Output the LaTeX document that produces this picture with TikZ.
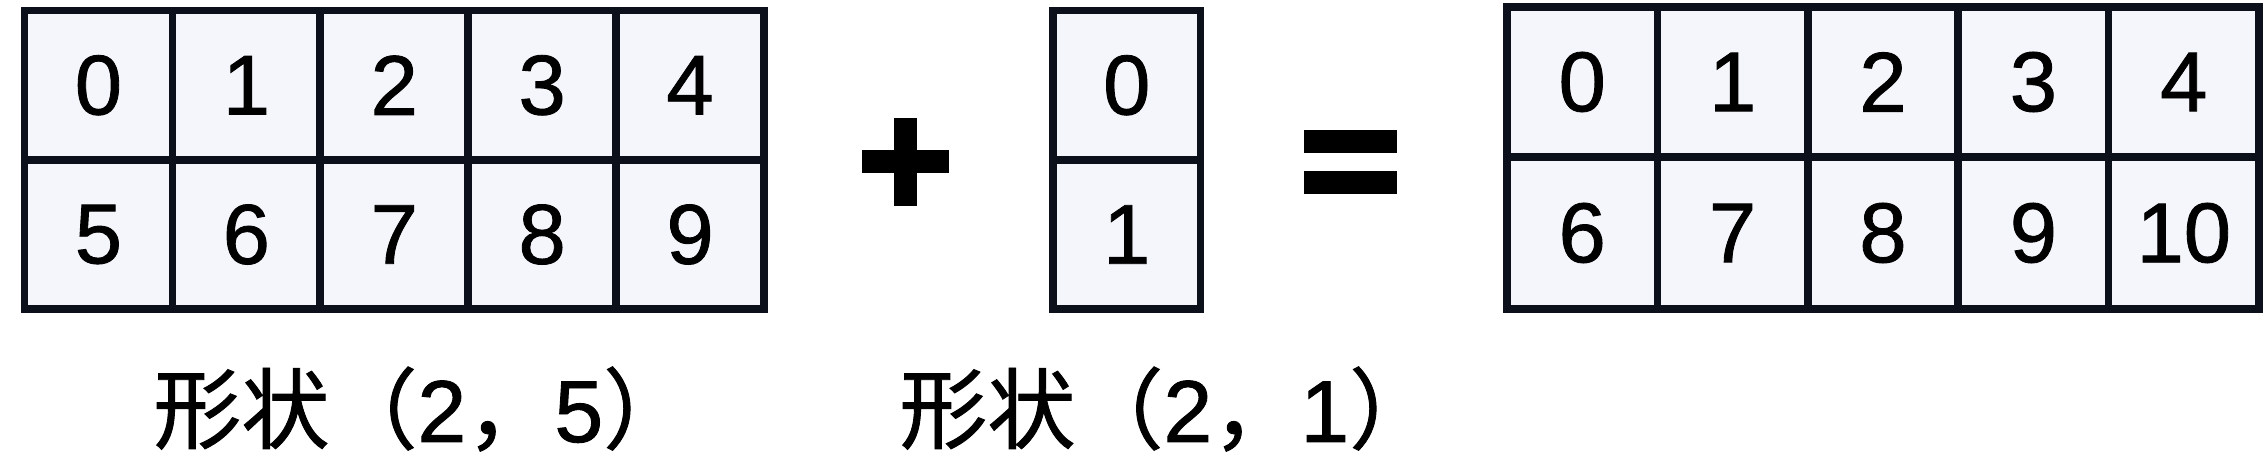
\documentclass[tikz,border=0pt]{standalone}
\usepackage{fontspec}
\setmainfont{Liberation Sans}[FakeBold=1]
\newfontfamily\cjk{Noto Sans CJK SC}[FakeBold=1]
\definecolor{cellfill}{RGB}{245,246,251}
\definecolor{cellline}{RGB}{12,16,26}
\begin{document}
\begin{tikzpicture}[x=0.5pt,y=-0.5pt,
  cell/.style={draw=cellline, fill=cellfill, line width=3.85pt, inner sep=0pt,
    font=\fontsize{42.5}{50}\selectfont, text=black},
  lcell/.style={cell, minimum width=73.95pt, minimum height=74.6pt},
  mcell/.style={cell, minimum width=73.75pt, minimum height=74.6pt},
  rtop/.style={cell, minimum width=75.2pt, minimum height=75pt},
  rbot/.style={cell, minimum width=75.2pt, minimum height=76pt},
  shapelabel/.style={anchor=base west, inner sep=0pt, font=\fontsize{44}{50}\selectfont}
]
\useasboundingbox (0,0) rectangle (2267,464);
% left grid 2x5
\foreach \i in {0,...,4}{
  \node[lcell] (L0\i) at ({24.5+147.9*(\i+0.5)},85.25) {\i};
}
\foreach \i [evaluate=\i as \v using int(\i+5)] in {0,...,4}{
  \node[lcell] (L1\i) at ({24.5+147.9*(\i+0.5)},234.5) {\v};
}
% plus
\fill[black] (862,150) rectangle (949,173);
\fill[black] (894,118) rectangle (917,206);
% middle grid 2x1
\node[mcell] (M0) at (1126.75,85.25) {0};
\node[mcell] (M1) at (1126.75,234.5) {1};
% equals
\fill[black] (1304,130) rectangle (1397,153);
\fill[black] (1304,171) rectangle (1397,194);
% right grid 2x5
\foreach \i in {0,...,4}{
  \node[rtop] (R0\i) at ({1507+150.4*(\i+0.5)},82) {\i};
}
\foreach \i [evaluate=\i as \v using int(\i+6)] in {0,...,4}{
  \node[rbot] (R1\i) at ({1507+150.4*(\i+0.5)},233) {\v};
}
% labels
\node[shapelabel] (lab1) at (153,442) {\cjk 形状（\rmfamily 2\cjk，\rmfamily 5\cjk）};
\node[shapelabel] (lab2) at (899,442) {\cjk 形状（\rmfamily 2\cjk，\rmfamily 1\cjk）};
\end{tikzpicture}
\end{document}
